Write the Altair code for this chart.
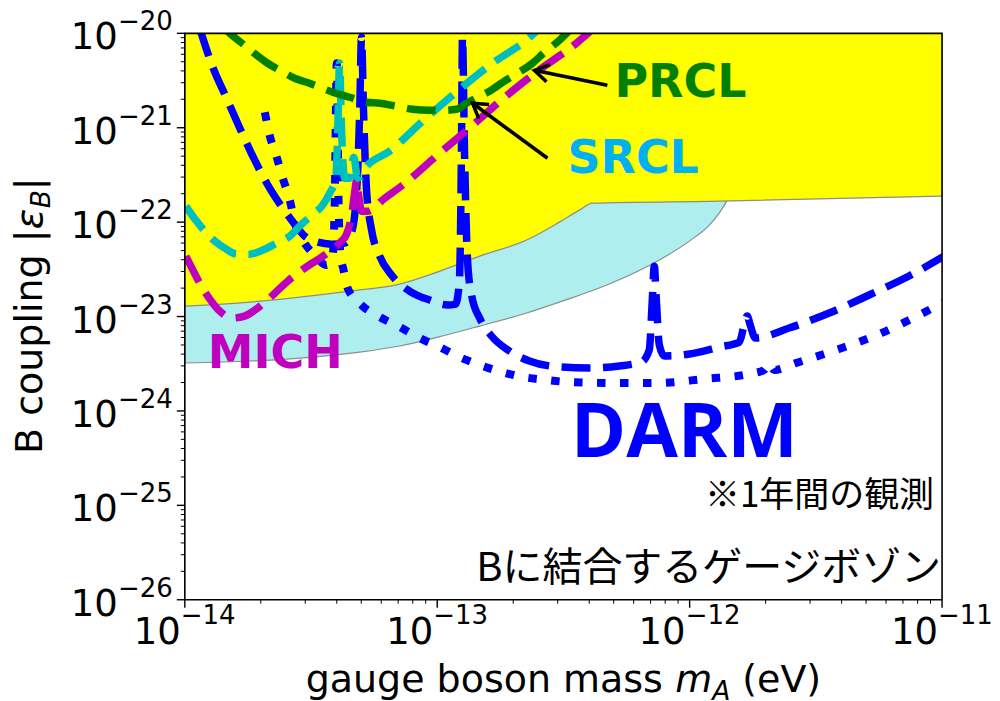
import math
import altair as alt
import pandas as pd

W, H = 758, 567

# ---------- values: (log10 mass [eV], log10 coupling |eps_B|) ----------
yellow_edge = [(-14.000, -22.889), (-13.743, -22.847), (-13.545, -22.794), (-13.347, -22.730),
               (-13.149, -22.656), (-12.979, -22.508), (-12.832, -22.360), (-12.646, -22.190),
               (-12.516, -22.000), (-12.437, -21.873), (-12.385, -21.799), (-11.883, -21.778),
               (-11.000, -21.725)]
cyan_edge = [(-14.000, -23.492), (-13.743, -23.471), (-13.493, -23.429), (-13.307, -23.376),
             (-13.149, -23.312), (-12.979, -23.206), (-12.832, -23.101), (-12.646, -22.963),
             (-12.516, -22.847), (-12.318, -22.656), (-12.120, -22.402), (-12.001, -22.201),
             (-11.922, -22.032), (-11.883, -21.905), (-11.855, -21.788)]
region_top = -20.0

darm_dashed = [(-13.941, -19.947), (-13.889, -20.360), (-13.838, -20.667), (-13.782, -21.005),
               (-13.723, -21.344), (-13.664, -21.640), (-13.612, -21.852), (-13.565, -22.021),
               (-13.525, -22.148), (-13.474, -22.212), (-13.418, -22.233), (-13.367, -22.222),
               (-13.339, -22.106), (-13.319, -21.661), (-13.307, -20.815), (-13.300, -20.042),
               (-13.292, -20.815), (-13.280, -21.661), (-13.260, -22.085), (-13.228, -22.360),
               (-13.181, -22.561), (-13.110, -22.730), (-13.030, -22.825), (-12.959, -22.878),
               (-12.927, -22.868), (-12.912, -22.614), (-12.904, -21.238), (-12.900, -20.042),
               (-12.892, -21.238), (-12.880, -22.402), (-12.864, -22.772), (-12.832, -23.016),
               (-12.785, -23.206), (-12.714, -23.365), (-12.635, -23.471), (-12.516, -23.534),
               (-12.397, -23.545), (-12.278, -23.524), (-12.191, -23.481), (-12.160, -23.354),
               (-12.148, -22.825), (-12.140, -22.466), (-12.132, -22.825), (-12.120, -23.302),
               (-12.100, -23.418), (-12.001, -23.397), (-11.883, -23.323), (-11.803, -23.270),
               (-11.784, -23.090), (-11.772, -22.995), (-11.760, -23.090), (-11.740, -23.228),
               (-11.606, -23.122), (-11.447, -22.963), (-11.289, -22.772), (-11.131, -22.571),
               (-10.992, -22.360)]

darm_dotted = [(-13.683, -20.836), (-13.664, -21.079), (-13.636, -21.312), (-13.612, -21.534),
               (-13.584, -21.767), (-13.565, -22.000), (-13.533, -22.190), (-13.486, -22.349),
               (-13.438, -22.455), (-13.414, -22.349), (-13.406, -21.767), (-13.398, -20.317),
               (-13.391, -21.767), (-13.383, -22.349), (-13.371, -22.508), (-13.355, -22.698),
               (-13.300, -22.878), (-13.228, -23.005), (-13.149, -23.111), (-13.070, -23.228),
               (-12.991, -23.323), (-12.912, -23.429), (-12.832, -23.513), (-12.745, -23.587),
               (-12.662, -23.640), (-12.567, -23.672), (-12.484, -23.693), (-12.306, -23.704),
               (-12.128, -23.704), (-11.942, -23.661), (-11.764, -23.608), (-11.705, -23.566),
               (-11.685, -23.492), (-11.665, -23.566), (-11.578, -23.492), (-11.408, -23.344),
               (-11.241, -23.175), (-11.083, -22.974), (-10.992, -22.847)]

mich = [(-13.996, -22.360), (-13.968, -22.508), (-13.941, -22.646), (-13.901, -22.815),
        (-13.862, -22.942), (-13.814, -23.016), (-13.763, -22.995), (-13.711, -22.910),
        (-13.664, -22.804), (-13.592, -22.624), (-13.525, -22.487), (-13.446, -22.349),
        (-13.387, -22.222), (-13.359, -22.127), (-13.339, -21.926), (-13.327, -21.683),
        (-13.319, -21.556), (-13.311, -21.725), (-13.300, -21.884), (-13.276, -21.884),
        (-13.208, -21.746), (-13.137, -21.608), (-12.991, -21.270), (-12.860, -20.974),
        (-12.714, -20.635), (-12.603, -20.402), (-12.449, -20.106), (-12.389, -19.968)]

srcl = [(-13.996, -21.831), (-13.960, -21.968), (-13.921, -22.095), (-13.881, -22.201),
        (-13.842, -22.275), (-13.794, -22.339), (-13.743, -22.339), (-13.691, -22.296),
        (-13.636, -22.222), (-13.584, -22.148), (-13.545, -22.042), (-13.497, -21.926),
        (-13.454, -21.820), (-13.426, -21.693), (-13.402, -21.534), (-13.394, -21.026),
        (-13.387, -20.317), (-13.379, -21.026), (-13.367, -21.534), (-13.347, -21.534),
        (-13.331, -21.312), (-13.315, -21.534), (-13.280, -21.407), (-13.189, -21.249),
        (-13.054, -20.921), (-12.916, -20.603), (-12.781, -20.317), (-12.643, -20.063),
        (-12.595, -19.947)]

prcl = [(-13.854, -19.915), (-13.822, -20.000), (-13.763, -20.127), (-13.715, -20.233),
        (-13.672, -20.317), (-13.616, -20.402), (-13.565, -20.476), (-13.517, -20.519),
        (-13.466, -20.571), (-13.414, -20.624), (-13.347, -20.677), (-13.280, -20.730),
        (-13.228, -20.741), (-13.161, -20.772), (-13.098, -20.804), (-13.030, -20.815),
        (-12.971, -20.815), (-12.924, -20.804), (-12.884, -20.741), (-12.832, -20.667),
        (-12.793, -20.614), (-12.741, -20.519), (-12.682, -20.423), (-12.623, -20.317),
        (-12.575, -20.201), (-12.516, -20.074), (-12.476, -19.968)]

arrow_prcl = [(-12.326, -20.550), (-12.615, -20.392)]   # tail, tip
arrow_srcl = [(-12.563, -21.323), (-12.860, -20.741)]

x_decades = [-14, -13, -12, -11]
x_exp_labels = ["\u221214", "\u221213", "\u221212", "\u221211"]
y_decades = [-20, -21, -22, -23, -24, -25, -26]
y_exp_labels = ["\u221220", "\u221221", "\u221222", "\u221223", "\u221224", "\u221225", "\u221226"]
minor_steps = [2, 3, 4, 5, 6, 7, 8, 9]

# ---------- helpers ----------
XS = alt.Scale(type="log", domain=[1e-14, 1e-11], nice=False)
YS = alt.Scale(type="log", domain=[1e-26, 1e-20], nice=False)
X = alt.X("m:Q", scale=XS, axis=None)
Y = alt.Y("c:Q", scale=YS, axis=None, stack=None)


def table(pairs):
    return pd.DataFrame({"m": [10.0 ** a for a, _ in pairs], "c": [10.0 ** b for _, b in pairs]})


def region(pairs):
    df = table(pairs)
    df["top"] = 10.0 ** region_top
    return df


def curve(pairs, color, dash, width=7.5):
    return alt.Chart(table(pairs)).mark_line(
        color=color, strokeWidth=width, strokeDash=dash, interpolate="monotone",
        clip=True, strokeCap="butt", strokeJoin="round").encode(x=X, y=Y)


def px(lm):
    return (lm + 14) / 3 * W


def py(lc):
    return (-20 - lc) / 6 * H


one = pd.DataFrame({"k": [0]})


def txt(text, x, y, **kw):
    kw.setdefault("baseline", "alphabetic")
    return alt.Chart(one).mark_text(text=text, **kw).encode(x=alt.value(x), y=alt.value(y))


layers = []

# shaded excluded regions
layers.append(alt.Chart(region(cyan_edge)).mark_area(
    color="#AFEEEE", fill="#AFEEEE", fillOpacity=1, opacity=1, stroke="#8c8c8c", strokeWidth=1.2,
    interpolate="monotone", clip=True
).encode(x=X, y=Y, y2=alt.Y2("top:Q")))
layers.append(alt.Chart(region(yellow_edge)).mark_area(
    color="#FFFF00", fill="#FFFF00", fillOpacity=1, opacity=1, stroke="#8c8c8c", strokeWidth=1.2,
    interpolate="monotone", clip=True
).encode(x=X, y=Y, y2=alt.Y2("top:Q")))

# sensitivity curves
layers.append(curve(darm_dotted, "#0000FF", [8.5, 14.5], 8))
layers.append(curve(darm_dashed, "#0000FF", [29, 12.5], 7.5))
layers.append(curve(mich, "#BF00BF", [29, 12.5], 7.5))
layers.append(curve(srcl, "#00BFBF", [29, 12.5], 7.5))
layers.append(curve(prcl, "#008000", [29, 12.5], 7.5))

# arrows
for arr in (arrow_prcl, arrow_srcl):
    layers.append(alt.Chart(table(arr)).mark_line(color="black", strokeWidth=3.5).encode(x=X, y=Y))
    (tx, ty), (hx, hy) = arr
    ang = math.degrees(math.atan2(py(hy) - py(ty), px(hx) - px(tx))) % 360
    layers.append(alt.Chart(table([arr[1]])).mark_point(
        shape="M -1 -0.62 L 0 0 L -1 0.62", size=800, filled=False, stroke="black",
        strokeWidth=3.5, opacity=1, angle=ang).encode(x=X, y=Y))

# curve labels
layers.append(txt("PRCL", 430, 64, font="DejaVu Sans", fontWeight="bold", fontSize=46,
                  color="#008000", align="left"))
layers.append(txt("SRCL", 383, 140, font="DejaVu Sans", fontWeight="bold", fontSize=46,
                  color="#00B0F0", align="left"))
layers.append(txt("MICH", 23, 335, font="DejaVu Sans", fontWeight="bold", fontSize=46,
                  color="#BF00BF", align="left"))
layers.append(txt("DARM", 500, 424, font="Open Sans", fontWeight="bold", fontSize=75,
                  color="#0000FF", align="center"))
layers.append(txt("\u203b1年間の観測", 750, 474, font="Noto Sans CJK JP", fontSize=35,
                  color="black", align="right"))
layers.append(txt("Bに結合するゲージボゾン", 757, 548, font="Noto Sans CJK JP", fontSize=40,
                  color="black", align="right"))

# frame
layers.append(alt.Chart(one).mark_rect(fillOpacity=0, stroke="black", strokeWidth=1.6).encode(
    x=alt.value(0), x2=alt.value(W), y=alt.value(0), y2=alt.value(H)))

# ticks
xmaj = pd.DataFrame({"v": [10.0 ** d for d in x_decades], "e": x_exp_labels})
xmin = pd.DataFrame({"v": [k * 10.0 ** d for d in x_decades[:-1] for k in minor_steps]})
ymaj = pd.DataFrame({"v": [10.0 ** d for d in y_decades], "e": y_exp_labels})
ymin = pd.DataFrame({"v": [k * 10.0 ** d for d in y_decades[1:] for k in minor_steps]})
XV = alt.X("v:Q", scale=XS, axis=None)
YV = alt.Y("v:Q", scale=YS, axis=None)

layers.append(alt.Chart(xmaj).mark_rule(color="black", strokeWidth=1.4).encode(
    x=XV, y=alt.value(H), y2=alt.value(H + 8)))
layers.append(alt.Chart(xmin).mark_rule(color="black", strokeWidth=1).encode(
    x=XV, y=alt.value(H), y2=alt.value(H + 4)))
layers.append(alt.Chart(ymaj).mark_rule(color="black", strokeWidth=1.4).encode(
    y=YV, x=alt.value(-8), x2=alt.value(0)))
layers.append(alt.Chart(ymin).mark_rule(color="black", strokeWidth=1).encode(
    y=YV, x=alt.value(-4), x2=alt.value(0)))

# tick labels (10 with superscript exponent)
layers.append(alt.Chart(xmaj).mark_text(text="10", font="DejaVu Sans", fontSize=37, align="right",
                                         baseline="alphabetic", dx=-4, color="black"
                                         ).encode(x=XV, y=alt.value(H + 44)))
layers.append(alt.Chart(xmaj).mark_text(font="DejaVu Sans", fontSize=26, align="left",
                                         baseline="alphabetic", dx=-4, color="black"
                                         ).encode(x=XV, y=alt.value(H + 24), text="e:N"))
layers.append(alt.Chart(ymaj).mark_text(text="10", font="DejaVu Sans", fontSize=37, align="right",
                                         baseline="alphabetic", dy=16, color="black"
                                         ).encode(y=YV, x=alt.value(-67)))
layers.append(alt.Chart(ymaj).mark_text(font="DejaVu Sans", fontSize=26, align="left",
                                         baseline="alphabetic", dy=-3, color="black"
                                         ).encode(y=YV, x=alt.value(-67), text="e:N"))

# axis titles
layers.append(txt("gauge boson mass", 121, 659, font="DejaVu Sans", fontSize=38, align="left", color="black"))
layers.append(txt("m", 491, 659, font="DejaVu Sans", fontSize=38, fontStyle="italic", align="left", color="black"))
layers.append(txt("A", 528, 667, font="DejaVu Sans", fontSize=26.6, fontStyle="italic", align="left", color="black"))
layers.append(txt("(eV)", 558, 659, font="DejaVu Sans", fontSize=38, align="left", color="black"))

ya = dict(font="DejaVu Sans", angle=270, align="left", color="black")
layers.append(txt("B coupling |", -143, 421, fontSize=38, **ya))
layers.append(txt("\u03b5", -143, 421, fontSize=38, fontStyle="italic", dx=225, **ya))
layers.append(txt("B", -143, 421, fontSize=26.6, fontStyle="italic", dx=246, dy=8, **ya))
layers.append(txt("|", -143, 421, fontSize=38, dx=264, **ya))

chart = alt.layer(*layers).properties(
    width=W, height=H,
    padding={"left": 177, "top": 25, "right": 50, "bottom": 100},
    autosize=alt.AutoSizeParams(type="none"),
).configure_view(strokeWidth=0)

chart.save("out.html", embed_options={"renderer": "svg", "actions": False})
